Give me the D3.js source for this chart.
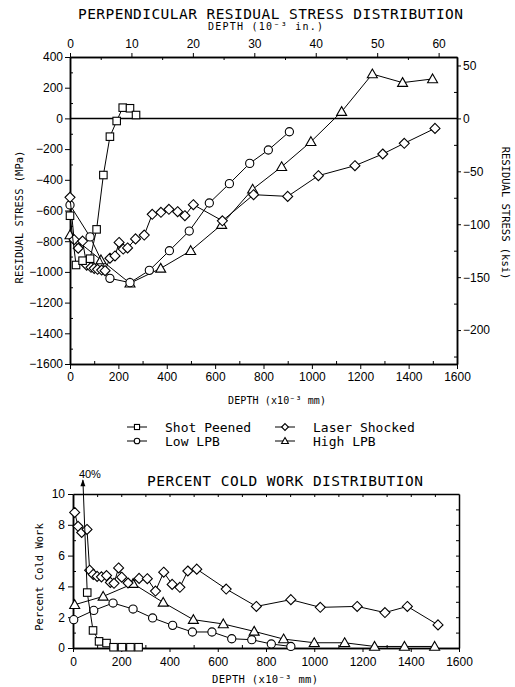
<!DOCTYPE html>
<html>
<head>
<meta charset="utf-8">
<script src="https://cdn.jsdelivr.net/npm/d3@7"></script>
<style>
body{margin:0;background:#fff}
.mono{font-family:"DejaVu Sans Mono",monospace}
.tick text{font-family:"Liberation Sans",sans-serif;font-size:12px;fill:#000}
.tick line{stroke:#000}
.domain{stroke:#000;stroke-width:1.5}
</style>
</head>
<body>
<script>
var w = 515, h = 687;

// depth in 10^-3 mm, residual stress in MPa
var shotRS = [[0,-634],[25,-955],[52,-927],[83,-914],[110,-723],[138,-369],[165,-119],[193,-17],[218,70],[248,66],[273,22]];
var laserRS = [[0,-514],[17,-790],[34,-846],[52,-799],[69,-956],[87,-970],[100,-977],[114,-983],[131,-988],[145,-992],[165,-911],[186,-896],[203,-808],[220,-851],[238,-844],[271,-785],[307,-760],[340,-625],[376,-612],[409,-592],[445,-608],[475,-634],[510,-562],[630,-667],[759,-497],[900,-508],[1027,-373],[1178,-308],[1293,-232],[1382,-162],[1509,-65]];
var lowRS = [[0,-564],[83,-772],[165,-1042],[248,-1070],[328,-990],[411,-862],[493,-734],[576,-551],[659,-425],[743,-293],[820,-206],[907,-87]];
var highRS = [[0,-760],[128,-922],[248,-1074],[375,-977],[499,-862],[627,-692],[755,-462],[875,-315],[996,-152],[1123,44],[1250,289],[1375,233],[1499,257]];

// depth in 10^-3 mm, percent cold work
var shotCW = [[41,40],[59,3.6],[83,1.14],[108,0.43],[139,0.32],[168,0.05],[203,0.05],[238,0.05],[272,0.05]];
var laserCW = [[7,8.8],[21,7.9],[36,7.5],[58,7.7],[69,5.05],[84,4.78],[100,4.65],[118,4.62],[139,4.7],[155,4.26],[170,4.2],[189,5.2],[202,4.6],[228,4.22],[274,4.52],[308,4.5],[342,3.7],[376,4.92],[411,4.13],[443,3.94],[476,5.0],[513,5.12],[635,3.83],[760,2.7],[903,3.14],[1025,2.64],[1178,2.7],[1293,2.3],[1386,2.7],[1513,1.5]];
var lowCW = [[3,1.84],[86,2.44],[166,2.92],[249,2.53],[330,1.95],[413,1.47],[495,1.04],[576,1.04],[658,0.6],[741,0.54],[822,0.26],[903,0.1]];
var highCW = [[7,2.81],[125,3.35],[249,4.18],[374,2.96],[499,1.84],[623,1.56],[751,1.08],[873,0.58],[1000,0.34],[1126,0.34],[1250,0.1],[1374,0.1],[1499,0.1]];

var names = ["Shot Peened","Laser Shocked","Low LPB","High LPB"];
var shapes = ["square","diamond","circle","triangle"];

var depthTicks = d3.range(0,1601,200);
var mpaTicks = d3.range(-1600,401,200);
var ksiTicks = [-200,-150,-100,-50,0,50];
var inTicks = d3.range(0,61,10);
var cwTicks = d3.range(0,11,2);

var fmt = d3.format("d");

var svg = d3.select("body").append("svg")
	.attr("width", w)
	.attr("height", h)

function mark(g, type, x, y, s) {
	var m;
	if (type=="square") {
		m = g.append("rect").attr("x",x-s*0.75).attr("y",y-s*0.75).attr("width",s*1.5).attr("height",s*1.5)
	} else if (type=="circle") {
		m = g.append("circle").attr("cx",x).attr("cy",y).attr("r",s*0.82)
	} else if (type=="diamond") {
		m = g.append("path").attr("d","M"+x+","+(y-s)+"L"+(x+s)+","+y+"L"+x+","+(y+s)+"L"+(x-s)+","+y+"Z")
	} else {
		m = g.append("path").attr("d","M"+x+","+(y-s)+"L"+(x+s)+","+(y+s*0.75)+"L"+(x-s)+","+(y+s*0.75)+"Z")
	}
	m.style("fill","white").style("stroke","black").style("stroke-width",1.1)
}

function series(g, data, type, xs, ys, vmax) {
	var line = d3.line()
		.x(function(d){ return xs(d[0]); })
		.y(function(d){ return ys(Math.min(d[1], vmax)); });
	g.append("path").attr("d", line(data))
		.style("fill","none").style("stroke","black").style("stroke-width",1)
	data.forEach(function(d){
		if (d[1] <= vmax) mark(g, type, xs(d[0]), ys(d[1]), 5);
	})
}

// ---------- residual stress ----------
var xT = d3.scaleLinear().domain([0,1600]).range([70,457]);
var yT = d3.scaleLinear().domain([-1600,400]).range([364,57]);
var xIn = d3.scaleLinear().domain([0,1600/25.4]).range([70,457]);
var yK = d3.scaleLinear().domain([-1600/6.895,400/6.895]).range([364,57]);

svg.append("g").attr("transform","translate(0,364)")
	.call(d3.axisBottom(xT).tickValues(depthTicks).tickFormat(fmt).tickSize(5).tickPadding(3).tickSizeOuter(0))
svg.append("g").attr("transform","translate(0,364)")
	.call(d3.axisBottom(xT).tickValues(d3.range(100,1600,200)).tickSize(-3).tickFormat("").tickSizeOuter(0))
svg.append("g").attr("transform","translate(70,0)")
	.call(d3.axisLeft(yT).tickValues(mpaTicks).tickFormat(fmt).tickSize(5).tickPadding(2).tickSizeOuter(0))
svg.append("g").attr("transform","translate(70,0)")
	.call(d3.axisLeft(yT).tickValues(d3.range(-1500,400,200)).tickSize(-3).tickFormat("").tickSizeOuter(0))
svg.append("g").attr("transform","translate(0,57)")
	.call(d3.axisTop(xIn).tickValues(inTicks).tickFormat(fmt).tickSize(4).tickPadding(5).tickSizeOuter(0))
svg.append("g").attr("transform","translate(0,57)")
	.call(d3.axisTop(xIn).tickValues(d3.range(5,61,10)).tickSize(-3).tickFormat("").tickSizeOuter(0))
svg.append("g").attr("transform","translate(457,0)")
	.call(d3.axisRight(yK).tickValues(ksiTicks).tickFormat(fmt).tickSize(4).tickPadding(2).tickSizeOuter(0))
svg.append("g").attr("transform","translate(457,0)")
	.call(d3.axisRight(yK).tickValues([-225,-175,-125,-75,-25,25]).tickSize(-3).tickFormat("").tickSizeOuter(0))

svg.append("line")
	.attr("x1",xT(0)).attr("x2",xT(1600)).attr("y1",yT(0)).attr("y2",yT(0))
	.style("stroke","black").style("stroke-width",1.5)

var gT = svg.append("g");
series(gT, highRS, "triangle", xT, yT, 400);
series(gT, lowRS, "circle", xT, yT, 400);
series(gT, laserRS, "diamond", xT, yT, 400);
series(gT, shotRS, "square", xT, yT, 400);

svg.append("text").attr("class","mono")
	.attr("x",78).attr("y",19).attr("textLength",385)
	.style("font-size","14.5px")
	.text("PERPENDICULAR RESIDUAL STRESS DISTRIBUTION")
svg.append("text").attr("class","mono")
	.attr("x",208).attr("y",30).attr("textLength",115)
	.style("font-size","10px")
	.text("DEPTH (10⁻³ in.)")
svg.append("text").attr("class","mono")
	.attr("x",228).attr("y",404).attr("textLength",98)
	.style("font-size","10px")
	.text("DEPTH (x10⁻³ mm)")
svg.append("text").attr("class","mono")
	.attr("transform","translate(23,217) rotate(-90)")
	.attr("text-anchor","middle")
	.style("font-size","10.5px")
	.text("RESIDUAL STRESS (MPa)")
svg.append("text").attr("class","mono")
	.attr("transform","translate(502,213) rotate(90)")
	.attr("text-anchor","middle")
	.style("font-size","10.5px")
	.text("RESIDUAL STRESS (ksi)")

// legend
var legend = svg.append("g")
names.forEach(function(n,i){
	var lx = i%2==0 ? 127 : 275;
	var ly = 427 + Math.floor(i/2)*14;
	legend.append("line").attr("x1",lx).attr("x2",lx+20).attr("y1",ly).attr("y2",ly)
		.style("stroke","black").style("stroke-width",1)
	mark(legend, shapes[i], lx+10, ly, 3.4);
	legend.append("text").attr("class","mono")
		.attr("x",lx+38).attr("y",ly+4.5)
		.style("font-size","13px")
		.text(n)
})

// ---------- cold work ----------
var xB = d3.scaleLinear().domain([0,1600]).range([73,459]);
var yB = d3.scaleLinear().domain([0,10]).range([648,494]);

svg.append("g").attr("transform","translate(0,648)")
	.call(d3.axisBottom(xB).tickValues(depthTicks).tickFormat(fmt).tickSize(4).tickPadding(5).tickSizeOuter(0))
svg.append("g").attr("transform","translate(0,648)")
	.call(d3.axisBottom(xB).tickValues(d3.range(100,1600,200)).tickSize(-3).tickFormat("").tickSizeOuter(0))
svg.append("g").attr("transform","translate(73,0)")
	.call(d3.axisLeft(yB).tickValues(cwTicks).tickFormat(fmt).tickSize(5).tickPadding(3).tickSizeOuter(0))
svg.append("g").attr("transform","translate(73,0)")
	.call(d3.axisLeft(yB).tickValues(d3.range(1,10,2)).tickSize(-3).tickFormat("").tickSizeOuter(0))
svg.append("g").attr("transform","translate(0,494)")
	.call(d3.axisTop(xB).tickValues(d3.range(100,1600,100)).tickSize(-3).tickFormat("").tickSizeOuter(0))
svg.append("g").attr("transform","translate(459,0)")
	.call(d3.axisRight(yB).tickValues(d3.range(1,10,1)).tickSize(-3).tickFormat("").tickSizeOuter(0))

var gB = svg.append("g");
series(gB, highCW, "triangle", xB, yB, 10);
series(gB, lowCW, "circle", xB, yB, 10);
series(gB, laserCW, "diamond", xB, yB, 10);
series(gB, shotCW, "square", xB, yB, 10.9);

// arrow for the off-scale shot peened value
var off = shotCW[0];
gB.append("path")
	.attr("d","M"+xB(off[0])+","+(yB(10.9)-1)+"l-2.5,7l5,0z")
	.style("fill","black")
gB.append("text")
	.attr("x",xB(off[0])+7).attr("y",yB(10.9)-2)
	.attr("text-anchor","middle")
	.style("font-family","Liberation Sans, sans-serif").style("font-size","11px")
	.text(off[1]+"%")

svg.append("text").attr("class","mono")
	.attr("x",147).attr("y",486).attr("textLength",276)
	.style("font-size","14.5px")
	.text("PERCENT COLD WORK DISTRIBUTION")
svg.append("text").attr("class","mono")
	.attr("x",212).attr("y",683).attr("textLength",106)
	.style("font-size","10.5px")
	.text("DEPTH (x10⁻³ mm)")
svg.append("text").attr("class","mono")
	.attr("transform","translate(43,577) rotate(-90)")
	.attr("text-anchor","middle")
	.style("font-size","10.5px")
	.text("Percent Cold Work")
</script>
</body>
</html>
